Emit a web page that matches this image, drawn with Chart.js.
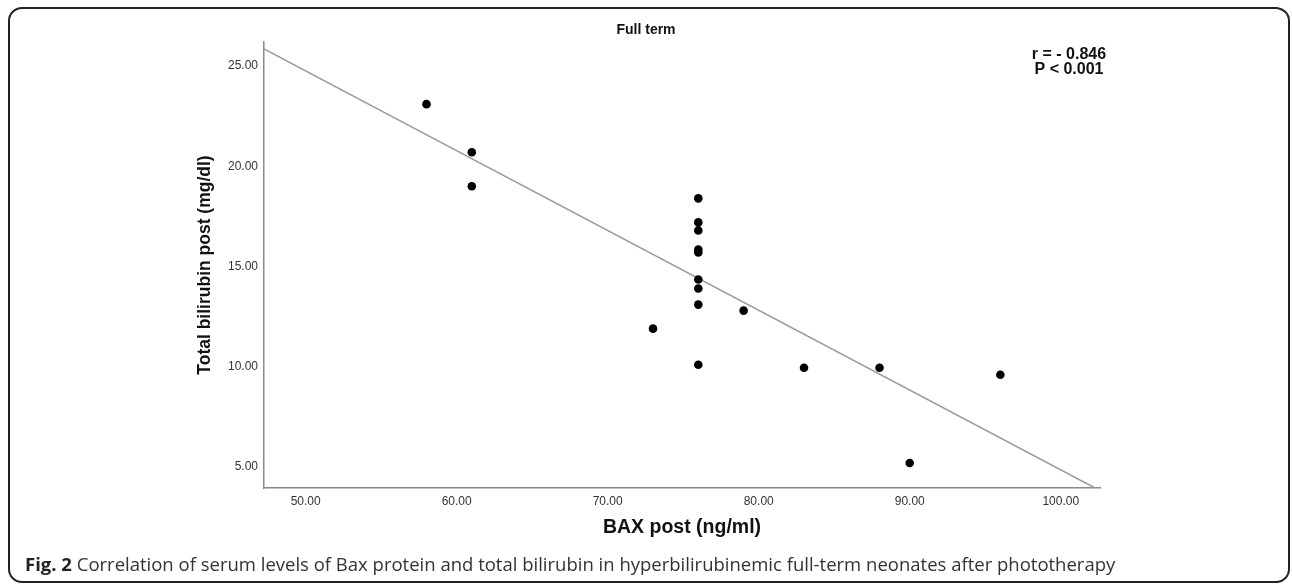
<!DOCTYPE html>
<html>
<head>
<meta charset="utf-8">
<script src="https://cdn.jsdelivr.net/npm/chart.js@4/dist/chart.umd.min.js"></script>
<style>
  html, body { margin: 0; padding: 0; background: #fff; }
  #wrap { position: relative; width: 1292px; height: 584px; overflow: hidden; }
  #c { position: absolute; left: 0; top: 0; }
  #frame { position: absolute; left: 8px; top: 7px; width: 1282px; height: 576px; box-sizing: border-box;
           border: 2px solid #222; border-radius: 14px; pointer-events: none; }
  #caption { position: absolute; left: 25px; top: 552px; font-family: "Open Sans", sans-serif; font-size: 18.5px;
             line-height: 24px; color: #333; white-space: nowrap; }
  #caption b { color: #222; }
</style>
</head>
<body>
<div id="wrap">
  <canvas id="c" width="1292" height="584"></canvas>
  <div id="frame"></div>
  <div id="caption"><b>Fig. 2</b> Correlation of serum levels of Bax protein and total bilirubin in hyperbilirubinemic full-term neonates after phototherapy</div>
</div>
<script>
// ---- data ----
const bax       = [58,   61,   61,   76,   76,   76,   76,    76,   76,    76,   76,   76,   73,   79,   83,   88,   96,  90];
const bilirubin = [23.1, 20.7, 19.0, 18.4, 17.2, 16.8, 15.85, 15.7, 14.35, 13.9, 13.1, 10.1, 11.9, 12.8, 9.95, 9.95, 9.6, 5.2];
const fitX = [47.24, 102.27];
const fitY = [25.85, 3.95];
const xTicks = [50, 60, 70, 80, 90, 100];
const yTicks = [5, 10, 15, 20, 25];
const xRange = [47.24, 102.6];
const yRange = [3.95, 26.2];
const chartTitle = 'Full term';
const xTitle = 'BAX post (ng/ml)';
const yTitle = 'Total bilirubin post (mg/dl)';
const statLines = ['r = - 0.846', 'P < 0.001'];

Chart.defaults.font.family = '"Liberation Sans", Arial, sans-serif';

const points = bax.map((x, i) => ({ x: x, y: bilirubin[i] }));
const fit = fitX.map((x, i) => ({ x: x, y: fitY[i] }));

const statPlugin = {
  id: 'stat',
  afterDatasetsDraw(chart) {
    const { ctx, chartArea } = chart;
    ctx.save();
    ctx.font = 'bold 16px "Liberation Sans", Arial, sans-serif';
    ctx.fillStyle = '#111';
    ctx.textAlign = 'center';
    ctx.textBaseline = 'middle';
    const cx = chartArea.right - 31;
    statLines.forEach((t, i) => ctx.fillText(t, cx, chartArea.top + 13 + i * 15));
    ctx.restore();
  }
};

new Chart(document.getElementById('c'), {
  type: 'scatter',
  data: {
    datasets: [
      { type: 'line', data: fit, borderColor: '#9a9a9a', borderWidth: 1.5, pointRadius: 0, fill: false, order: 2 },
      { data: points, backgroundColor: '#000', borderColor: '#000', borderWidth: 0, pointRadius: 4.3, order: 1 }
    ]
  },
  options: {
    responsive: false,
    animation: false,
    devicePixelRatio: 1,
    layout: { padding: { left: 0, right: 0, top: 0, bottom: 40.6 } },
    plugins: {
      legend: { display: false },
      tooltip: { enabled: false },
      title: { display: true, text: chartTitle, color: '#111', font: { size: 14, weight: 'bold' }, padding: { top: 22, bottom: 3.2 } }
    },
    scales: {
      x: {
        type: 'linear', position: 'bottom', min: xRange[0], max: xRange[1],
        afterBuildTicks(s) { s.ticks = xTicks.map(v => ({ value: v })); },
        ticks: { callback: v => Number(v).toFixed(2), font: { size: 12 }, color: '#333', padding: 6, autoSkip: false, maxRotation: 0 },
        grid: { display: false, drawTicks: false },
        border: { display: true, color: '#8a8a8a', width: 1.5 },
        title: { display: true, text: xTitle, color: '#111', font: { size: 19.5, weight: 'bold' }, padding: { top: 0, bottom: 4 } },
        afterFit(s) { s.height = 55.4; }
      },
      y: {
        type: 'linear', position: 'left', min: yRange[0], max: yRange[1],
        afterBuildTicks(s) { s.ticks = yTicks.map(v => ({ value: v })); },
        ticks: { callback: v => Number(v).toFixed(2), font: { size: 12 }, color: '#333', padding: 6, autoSkip: false },
        grid: { display: false, drawTicks: false },
        border: { display: true, color: '#8a8a8a', width: 1.5 },
        title: { display: true, text: yTitle, color: '#111', font: { size: 17.5, weight: 'bold' }, padding: { top: 194.5, bottom: 0 } },
        afterFit(s) { s.width = 264; }
      },
      y2: {
        type: 'linear', position: 'right', display: true,
        grid: { display: false, drawTicks: false }, border: { display: false }, ticks: { display: false },
        afterFit(s) { s.width = 192; }
      }
    }
  },
  plugins: [statPlugin]
});
</script>
</body>
</html>
